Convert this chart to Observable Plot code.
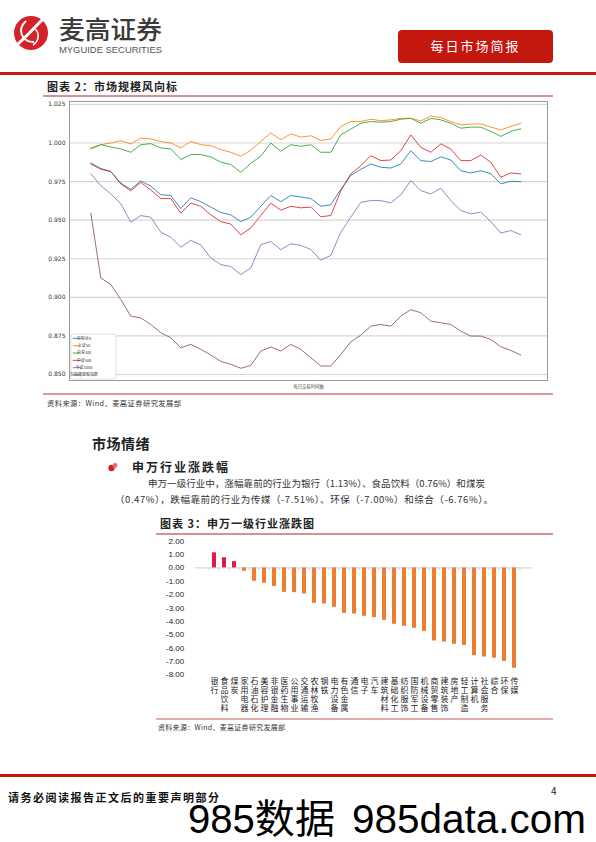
<!DOCTYPE html>
<html><head><meta charset="utf-8">
<script src="https://cdn.jsdelivr.net/npm/d3@7"></script>
<script src="https://cdn.jsdelivr.net/npm/@observablehq/plot@0.6"></script>
<style>
html,body{margin:0;padding:0;background:#fff;}
#page{position:relative;width:596px;height:842px;overflow:hidden;font-family:"Noto Sans CJK SC",sans-serif;}
#page > svg{position:absolute;left:0;}
</style></head><body><div id="page">
<svg id="bg" width="596" height="842" style="top:0" font-family="Noto Sans CJK SC">
  <g transform="translate(31,33)">
    <circle r="17" fill="#d3222a"/>
    <path d="M-13,11 C-4,3 4,-6 13,-15" stroke="#fff" stroke-width="3" fill="none"/>
    <path d="M-5,-12 C-14,-4 -10,9 3,9" stroke="#fff" stroke-width="2" fill="none"/>
    <path d="M4,-4 C9,0 8,8 2,12" stroke="#fff" stroke-width="1.6" fill="none"/>
  </g>
  <text x="59" y="39" font-size="25" font-weight="500" fill="#3a3a3a" textLength="103" lengthAdjust="spacingAndGlyphs">麦高证券</text>
  <text x="59" y="53" font-size="9" font-family="Liberation Sans" fill="#555" textLength="103" lengthAdjust="spacingAndGlyphs">MYGUIDE SECURITIES</text>
  <rect x="398" y="30" width="155" height="33" rx="4" fill="#c4180f"/>
  <text x="475.5" y="51" font-size="13" fill="#fff" text-anchor="middle" letter-spacing="2">每日市场简报</text>
  <rect x="0" y="72" width="596" height="3" fill="#c4180f"/>

  <text x="47" y="91" font-size="11" font-weight="700" fill="#222" letter-spacing="1">图表 2：市场规模风向标</text>
  <line x1="43" x2="553" y1="96" y2="96" stroke="#d99090" stroke-width="2"/>
  <line x1="43" x2="553" y1="394" y2="394" stroke="#cc7a7a" stroke-width="1.6"/>
  <text x="47" y="406" font-size="7.3" fill="#333" letter-spacing="0.4">资料来源：Wind、麦高证券研究发展部</text>

  <text x="92" y="448.5" font-size="14" font-weight="700" fill="#222" letter-spacing="0.5">市场情绪</text>
  <g transform="translate(113,467)">
    <circle cx="-1.5" cy="1" r="3.2" fill="#d3222a"/>
    <circle cx="2" cy="-1.5" r="2.4" fill="#e86a6a"/>
  </g>
  <text x="132" y="471.5" font-size="12" font-weight="700" fill="#222" letter-spacing="2">申万行业涨跌幅</text>
  <text x="148" y="486.5" font-size="9.5" fill="#333" textLength="337" lengthAdjust="spacing">申万一级行业中，涨幅靠前的行业为银行（1.13%）、食品饮料（0.76%）和煤炭</text>
  <text x="115" y="503" font-size="9.5" fill="#333" textLength="378" lengthAdjust="spacing">（0.47%），跌幅靠前的行业为传媒（-7.51%）、环保（-7.00%）和综合（-6.76%）。</text>

  <text x="160" y="528" font-size="11" font-weight="700" fill="#222" letter-spacing="1">图表 3：申万一级行业涨跌图</text>
  <line x1="156" x2="553" y1="534" y2="534" stroke="#d99090" stroke-width="2"/>
  <line x1="156" x2="553" y1="719" y2="719" stroke="#d99090" stroke-width="1.6"/>
  <text x="158" y="730" font-size="7" fill="#333" letter-spacing="0.3">资料来源：Wind、麦高证券研究发展部</text>

  <rect x="0" y="774" width="596" height="3" fill="#c4180f"/>
  <text x="8" y="802" font-size="11" font-weight="700" fill="#111" letter-spacing="1.5">请务必阅读报告正文后的重要声明部分</text>
  <text x="551" y="795" font-size="10" fill="#222">4</text>
  <text x="188" y="833" font-size="40" font-family="Liberation Sans, Noto Sans CJK SC" fill="#000" textLength="147" lengthAdjust="spacingAndGlyphs">985数据</text>
  <text x="352" y="833" font-size="40" font-family="Liberation Sans" fill="#000" textLength="234" lengthAdjust="spacingAndGlyphs">985data.com</text>
</svg>
</div>
<script>
// ---- Chart 2: 市场规模风向标 (normalized index, sampled across the trading day) ----
const lineNames = ["万得全A", "上证50", "沪深300", "中证500", "中证1000", "万得微盘股指数"];
const lineColors = ["#1f77b4", "#ff7f0e", "#2ca02c", "#d62728", "#9467bd", "#8c564b"];
const yTicksLine = [0.850, 0.875, 0.900, 0.925, 0.950, 0.975, 1.000, 1.025];

const quanA = [0.987, 0.9835, 0.9815, 0.974, 0.970, 0.9755, 0.972, 0.9665, 0.966, 0.9575, 0.9645, 0.962, 0.9585, 0.955, 0.9535, 0.949, 0.952, 0.959, 0.966, 0.962, 0.966, 0.965, 0.964, 0.959, 0.960, 0.970, 0.979, 0.983, 0.9864, 0.9843, 0.9838, 0.9864, 0.995, 0.9886, 0.988, 0.991, 0.989, 0.982, 0.9806, 0.982, 0.980, 0.9735, 0.9752, 0.975];
const sz50 = [0.9968, 0.9989, 1.000, 1.0015, 0.9994, 1.0032, 1.0026, 1.001, 1.000, 0.9968, 1.001, 0.9989, 0.9983, 0.9957, 0.994, 0.9915, 0.9953, 1.001, 1.0065, 1.0021, 1.006, 1.0038, 1.0047, 1.0017, 1.0026, 1.0107, 1.0139, 1.0139, 1.0154, 1.0145, 1.015, 1.016, 1.016, 1.0143, 1.0175, 1.0165, 1.0139, 1.0118, 1.0122, 1.0124, 1.0103, 1.0085, 1.0107, 1.0128];
const hs300 = [0.9962, 0.9989, 0.9974, 0.9962, 0.994, 0.9989, 0.9996, 0.9968, 0.9962, 0.9893, 0.9925, 0.9925, 0.991, 0.9876, 0.9861, 0.981, 0.9868, 0.9915, 1.000, 0.9947, 0.9989, 0.9979, 0.9989, 0.994, 0.994, 1.0053, 1.009, 1.0128, 1.0139, 1.0135, 1.0139, 1.0154, 1.016, 1.0128, 1.016, 1.015, 1.0128, 1.0096, 1.0103, 1.0103, 1.0075, 1.0043, 1.0075, 1.0092];
const zz500 = [0.9865, 0.983, 0.9815, 0.9735, 0.969, 0.9745, 0.9695, 0.964, 0.964, 0.9545, 0.961, 0.959, 0.9535, 0.949, 0.9475, 0.9405, 0.945, 0.953, 0.961, 0.9565, 0.959, 0.958, 0.9585, 0.9522, 0.953, 0.969, 0.980, 0.9853, 0.9918, 0.9886, 0.989, 0.995, 1.0052, 0.9972, 0.994, 0.9994, 0.9961, 0.9886, 0.9886, 0.9922, 0.9875, 0.9778, 0.9806, 0.980];
const zz1000 = [0.980, 0.9724, 0.967, 0.9606, 0.9487, 0.953, 0.9519, 0.9422, 0.939, 0.9325, 0.9369, 0.934, 0.9255, 0.9212, 0.920, 0.9147, 0.919, 0.9341, 0.9362, 0.9309, 0.9347, 0.9337, 0.931, 0.924, 0.9272, 0.9422, 0.9519, 0.9616, 0.9627, 0.9627, 0.9612, 0.9664, 0.9756, 0.9692, 0.967, 0.9707, 0.9627, 0.9563, 0.9541, 0.9552, 0.9491, 0.9416, 0.9433, 0.9405];
const microCap = [0.9545, 0.9126, 0.9083, 0.8986, 0.8878, 0.8867, 0.8824, 0.877, 0.8738, 0.8673, 0.8695, 0.8663, 0.8626, 0.8585, 0.8566, 0.854, 0.8559, 0.8652, 0.8678, 0.8652, 0.8695, 0.8663, 0.8609, 0.8555, 0.8555, 0.863, 0.8712, 0.8755, 0.8813, 0.8824, 0.8813, 0.8878, 0.892, 0.89, 0.8846, 0.8835, 0.8824, 0.8781, 0.8749, 0.8749, 0.8727, 0.868, 0.8656, 0.8626];

// ---- Chart 3: 申万一级行业涨跌图 ----
const industries = ["银行", "食品饮料", "煤炭", "家用电器", "石油石化", "美容护理", "非银金融", "医药生物", "公用事业", "交通运输", "农林牧渔", "钢铁", "电力设备", "有色金属", "通信", "电子", "汽车", "建筑材料", "基础化工", "纺织服饰", "国防军工", "机械设备", "商贸零售", "建筑装饰", "房地产", "轻工制造", "计算机", "社会服务", "综合", "环保", "传媒"];
const changes = [1.13, 0.76, 0.47, -0.25, -1.00, -1.15, -1.38, -1.83, -1.85, -1.95, -2.65, -2.70, -2.95, -3.40, -3.45, -3.62, -3.72, -3.92, -4.22, -4.37, -4.52, -4.75, -5.47, -5.55, -5.72, -5.80, -6.57, -6.67, -6.76, -7.00, -7.51];
const barTicks = [2, 1, 0, -1, -2, -3, -4, -5, -6, -7, -8];

const page = document.getElementById("page");

const lineValues = [quanA, sz50, hs300, zz500, zz1000, microCap];
const lineRows = lineValues.flatMap((vals, k) => vals.map((v, i) => ({t: i, v, name: lineNames[k]})));

const chart1 = Plot.plot({
  width: 596, height: 295,
  marginLeft: 69, marginRight: 49, marginTop: 6, marginBottom: 10,
  style: {background: "transparent", fontFamily: "DejaVu Sans", overflow: "visible"},
  x: {domain: [-2.13, 45.67], axis: null},
  y: {domain: [0.8461, 1.0269], axis: null},
  color: {domain: lineNames, range: lineColors},
  marks: [
    Plot.gridY(yTicksLine, {stroke: "#d6d6d6", strokeOpacity: 1, strokeWidth: 1.2}),
    Plot.lineY(lineRows, {x: "t", y: "v", z: "name", stroke: "name", strokeWidth: 1, strokeOpacity: 0.85}),
    Plot.frame({stroke: "#9a9a9a", strokeWidth: 1}),
    Plot.axisY(yTicksLine, {tickSize: 0, tickPadding: 4, fontSize: 6, fill: "#333", label: null, tickFormat: d3.format(".3f")}),
    Plot.text(["每日交易时间轴"], {frameAnchor: "bottom", dy: 7.3, fontSize: 4.3, fill: "#444", fontFamily: "Noto Sans CJK SC"})
  ]
});
chart1.style.top = "95px";
page.appendChild(chart1);

// legend box (lower-left, inside the frame)
const lg = d3.select(chart1).append("g").attr("transform", "translate(71,239)");
lg.append("rect").attr("width", 45).attr("height", 45).attr("rx", 1.5)
  .attr("fill", "white").attr("stroke", "#cfcfcf").attr("stroke-width", 0.6);
lineNames.forEach((n, k) => {
  const yy = 4.3 + k * 7.35;
  lg.append("line").attr("x1", 1.7).attr("x2", 9.7).attr("y1", yy).attr("y2", yy)
    .attr("stroke", lineColors[k]).attr("stroke-opacity", 0.85).attr("stroke-width", 1);
  lg.append("text").attr("x", 13).attr("y", yy).attr("dy", "0.35em")
    .attr("font-size", 4).attr("font-family", "Noto Sans CJK SC").attr("fill", "#333").text(n);
});

const barRows = industries.map((name, i) => ({name, value: changes[i]}));
// vertical category labels: one text per character, stacked in rows
const labelChars = industries.flatMap(name => name.split("").map((ch, row) => ({name, ch, row})));
const labelRows = [0, 1, 2, 3].map(r =>
  Plot.text(labelChars.filter(d => d.row === r), {x: "name", text: "ch", frameAnchor: "bottom", dy: 9 + 9.1 * r, fontSize: 8, fill: "#222"})
);

const chart2 = Plot.plot({
  width: 596, height: 190,
  marginLeft: 194.7, marginRight: 63.4, marginTop: 10.7, marginBottom: 45.7,
  style: {background: "transparent", fontFamily: "Noto Sans CJK SC", overflow: "visible"},
  x: {domain: industries, paddingInner: 0.63, paddingOuter: 0.3, axis: null},
  y: {domain: [-8, 2], axis: null},
  marks: [
    Plot.ruleY([0], {stroke: "#d0d0d0"}),
    Plot.ruleX(industries, {x: d => d, y1: 0, y2: -0.22, dx: -5.455, stroke: "#d0d0d0"}),
    Plot.ruleX(industries.slice(-1), {x: d => d, y1: 0, y2: -0.22, dx: 5.455, stroke: "#d0d0d0"}),
    Plot.barY(barRows, {filter: d => d.value >= 0, x: "name", y: "value", fill: "#e8173f"}),
    Plot.barY(barRows, {filter: d => d.value < 0, x: "name", y: "value", fill: "#ee7d2f"}),
    Plot.axisY(barTicks, {tickSize: 0, tickPadding: 11, fontSize: 8, fill: "#222", label: null, fontFamily: "Liberation Sans", tickFormat: d => d.toFixed(2)}),
    ...labelRows
  ]
});
chart2.style.top = "530px";
page.appendChild(chart2);
</script>
</body></html>
